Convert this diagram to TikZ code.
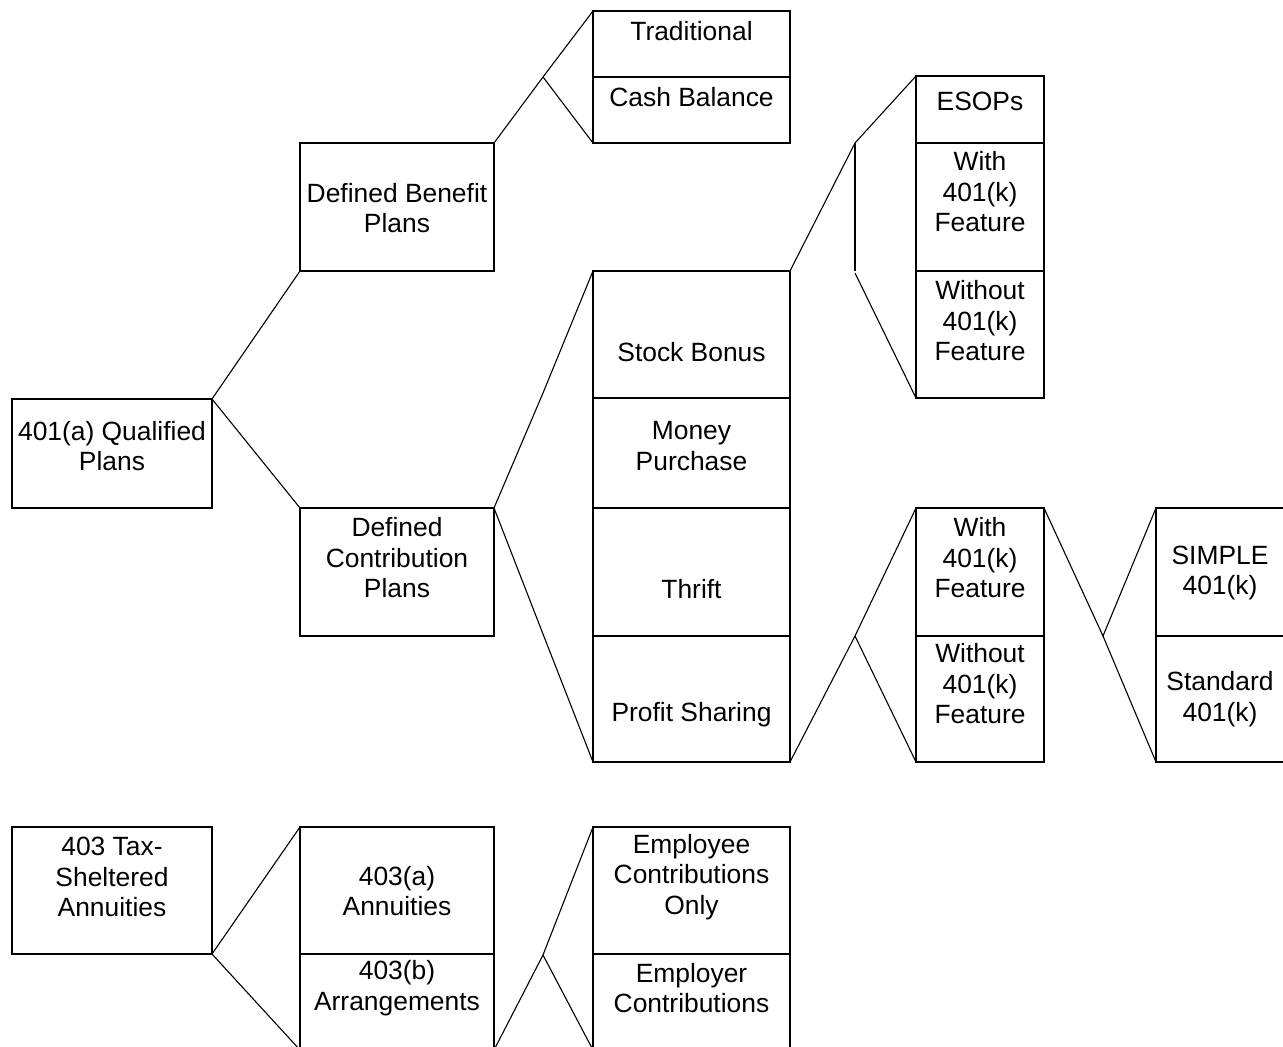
\documentclass[tikz,border=0pt]{standalone}
\usepackage{fontspec}
\setmainfont{Liberation Sans}
\begin{document}
\begin{tikzpicture}[x=1pt,y=-1pt,
  box/.style={draw, line width=2.6pt, outer sep=0pt, inner sep=0pt, anchor=north west},
  conn/.style={line width=1.1pt},
  bar/.style={line width=2.2pt},
  lbl/.style={align=center, inner sep=0pt, font=\fontsize{26.4}{30.5}\selectfont}]
\useasboundingbox (0,0) rectangle (1283,1047);
\clip (0,0) rectangle (1283,1047);
% column 1
\node[box, minimum width=200pt, minimum height=109pt] (qual) at (12,399) {};
\node[box, minimum width=200pt, minimum height=127pt] (tax) at (12,827) {};
% column 2
\node[box, minimum width=194pt, minimum height=128pt] (db) at (300,143) {};
\node[box, minimum width=194pt, minimum height=128pt] (dc) at (300,508) {};
\node[box, minimum width=194pt, minimum height=127pt] (a403) at (300,827) {};
\node[box, minimum width=194pt, minimum height=96pt] (b403) at (300,954) {};
% column 3
\node[box, minimum width=197pt, minimum height=66pt] (trad) at (593,11) {};
\node[box, minimum width=197pt, minimum height=66pt] (cash) at (593,77) {};
\node[box, minimum width=197pt, minimum height=127pt] (sb) at (593,271) {};
\node[box, minimum width=197pt, minimum height=110pt] (mp) at (593,398) {};
\node[box, minimum width=197pt, minimum height=128pt] (thr) at (593,508) {};
\node[box, minimum width=197pt, minimum height=126pt] (ps) at (593,636) {};
\node[box, minimum width=197pt, minimum height=127pt] (emp) at (593,827) {};
\node[box, minimum width=197pt, minimum height=96pt] (empr) at (593,954) {};
% column 4
\node[box, minimum width=128pt, minimum height=67pt] (esops) at (916,76) {};
\node[box, minimum width=128pt, minimum height=128pt] (wa) at (916,143) {};
\node[box, minimum width=128pt, minimum height=127pt] (woa) at (916,271) {};
\node[box, minimum width=128pt, minimum height=128pt] (wb) at (916,508) {};
\node[box, minimum width=128pt, minimum height=126pt] (wob) at (916,636) {};
% column 5
\node[box, minimum width=130pt, minimum height=128pt] (simple) at (1156,508) {};
\node[box, minimum width=130pt, minimum height=126pt] (std) at (1156,636) {};
% labels
\node[lbl] (t-qual) at (112,446) {401(a) Qualified\\Plans};
\node[lbl] (t-tax) at (112,877) {403 Tax-\\Sheltered\\Annuities};
\node[lbl] (t-db) at (397,208) {Defined Benefit\\Plans};
\node[lbl] (t-dc) at (397,558) {Defined\\Contribution\\Plans};
\node[lbl] (t-a403) at (397,891) {403(a)\\Annuities};
\node[lbl] (t-b403) at (397,988) {403(b)\\Arrangements};
\node[lbl] (t-trad) at (691.5,31) {Traditional};
\node[lbl] (t-cash) at (691.5,97) {Cash Balance};
\node[lbl] (t-sb) at (691.5,352) {Stock Bonus};
\node[lbl] (t-mp) at (691.5,446) {Money\\Purchase};
\node[lbl] (t-thr) at (691.5,589) {Thrift};
\node[lbl] (t-ps) at (691.5,715) {Profit Sharing};
\node[lbl] (t-emp) at (691.5,877) {Employee\\Contributions\\Only};
\node[lbl] (t-empr) at (691.5,988) {Employer\\Contributions};
\node[lbl] (t-esops) at (980,101) {ESOPs};
\node[lbl] (t-wa) at (980,192) {With\\401(k)\\Feature};
\node[lbl] (t-woa) at (980,321) {Without\\401(k)\\Feature};
\node[lbl] (t-wb) at (980,558) {With\\401(k)\\Feature};
\node[lbl] (t-wob) at (980,684) {Without\\401(k)\\Feature};
\node[lbl] (t-simple) at (1220,573) {SIMPLE\\401(k)};
\node[lbl] (t-std) at (1220,699) {Standard\\401(k)};
% connectors
\coordinate (fa) at (543,77);
\coordinate (fb1) at (543,393);
\coordinate (fb2) at (543,634);
\coordinate (fc1) at (855,143);
\coordinate (fc2) at (855,271);
\coordinate (fc3) at (855,273);
\coordinate (fd) at (855,636);
\coordinate (fe) at (1103,636);
\coordinate (ff) at (543,955);
\draw[conn] (qual.north east) -- (db.south west);
\draw[conn] (qual.north east) -- (dc.north west);
\draw[conn] (db.north east) -- (fa) -- (trad.north west);
\draw[conn] (fa) -- (cash.south west);
\draw[conn] (dc.north east) -- (fb1) -- (sb.north west);
\draw[conn] (dc.north east) -- (fb2) -- (ps.south west);
\draw[conn] (sb.north east) -- (fc1) -- (esops.north west);
\draw[bar] (fc1) -- (fc2);
\draw[conn] (fc3) -- (woa.south west);
\draw[conn] (ps.south east) -- (fd) -- (wb.north west);
\draw[conn] (fd) -- (wob.south west);
\draw[conn] (wb.north east) -- (fe) -- (simple.north west);
\draw[conn] (fe) -- (std.south west);
\draw[conn] (tax.south east) -- (a403.north west);
\draw[conn] (tax.south east) -- (b403.south west);
\draw[conn] (b403.south east) -- (ff) -- (emp.north west);
\draw[conn] (ff) -- (empr.south west);
\end{tikzpicture}
\end{document}
